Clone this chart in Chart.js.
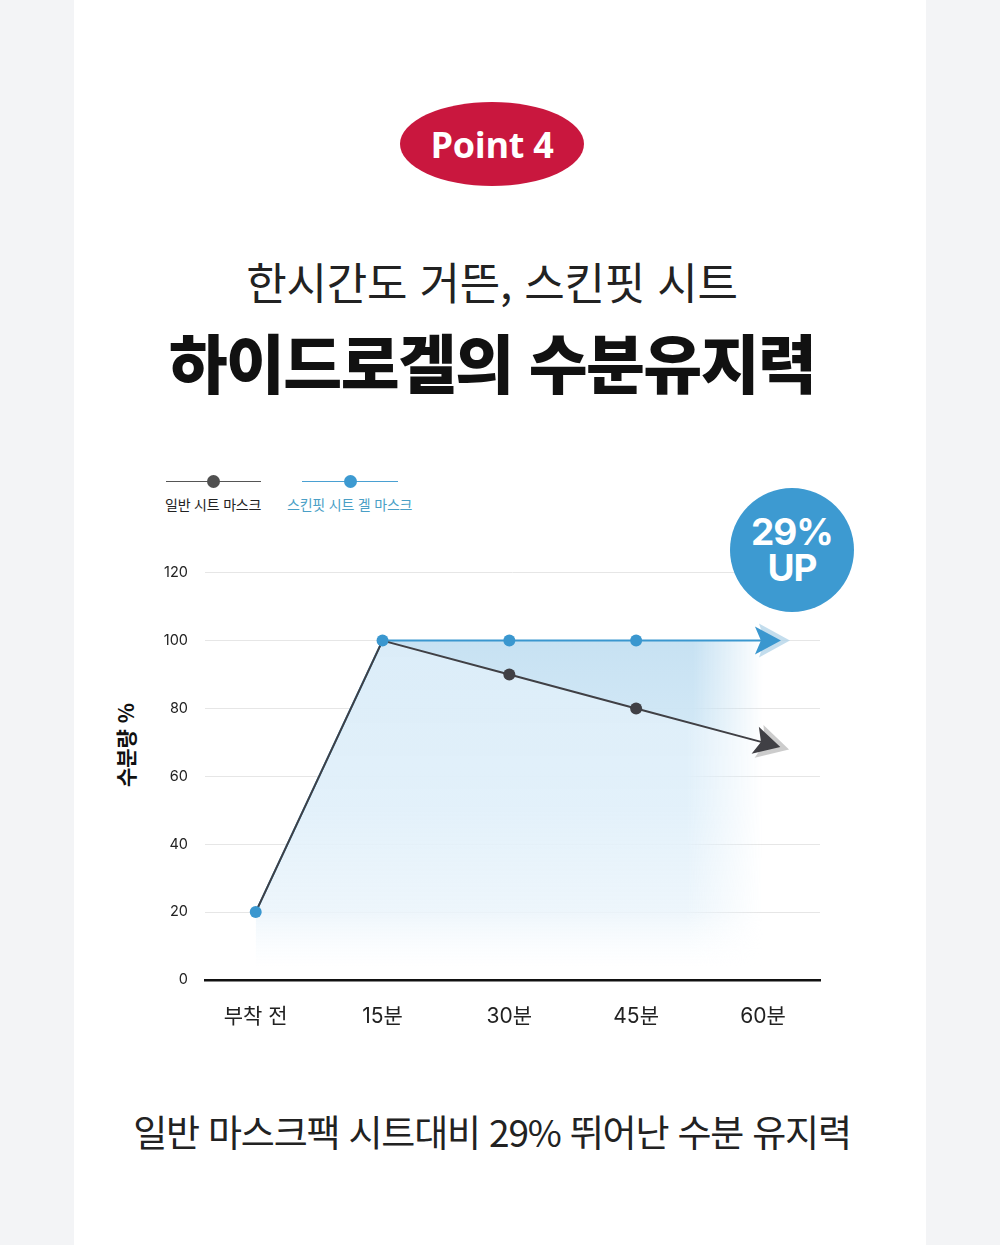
<!DOCTYPE html>
<html lang="ko">
<head>
<meta charset="utf-8">
<script src="https://cdn.jsdelivr.net/npm/chart.js@4.4.1/dist/chart.umd.min.js"></script>
<style>
  html, body { margin:0; padding:0; }
  body { width:1000px; height:1245px; background:#f3f4f6; position:relative; overflow:hidden;
         font-family:"Noto Sans CJK KR","Noto Sans",sans-serif; color:#1a1a1a; }
  #page { position:absolute; left:74px; top:0; width:852px; height:1245px; background:#fff; }
  .abs { position:absolute; }
  #badge { left:400px; top:102px; width:184px; height:84px; border-radius:50%; background:#c9173e;
           color:#fff; font-family:"Open Sans",sans-serif; font-weight:700; font-size:36px;
           display:flex; align-items:center; justify-content:center; letter-spacing:-0.3px; }
  .center { left:0; width:984px; text-align:center; white-space:nowrap; }
  #h1 { top:249px; font-size:44px; font-weight:400; letter-spacing:-0.2px; color:#222; }
  #h2 { top:314px; font-size:64px; font-weight:900; letter-spacing:-1.6px; color:#111; }
  #foot { top:1104px; font-size:37px; font-weight:400; letter-spacing:-1.2px; color:#222; }
  #circle { left:730px; top:488px; width:124px; height:124px; border-radius:50%; background:#3d9ad1;
            color:#fff; font-family:"Inter","Noto Sans",sans-serif; font-weight:700; font-size:37px;
            line-height:36px; display:flex; flex-direction:column; align-items:center; justify-content:center; letter-spacing:-1px; }
  .lgline { height:1.3px; }
  .lgdot { width:13px; height:13px; border-radius:50%; }
  .lgtext { font-size:14px; top:494px; white-space:nowrap; letter-spacing:-0.2px; }
  #ytitle { left:125px; top:745px; transform:translate(-50%,-50%) rotate(-90deg); font-size:21px; font-weight:700;
            white-space:nowrap; color:#111; }
  #wrap { left:140px; top:547px; width:720px; height:493px; }
</style>
</head>
<body>
<div id="page"></div>
<div id="badge" class="abs">Point 4</div>
<div id="h1" class="abs center">한시간도 거뜬, 스킨핏 시트</div>
<div id="h2" class="abs center">하이드로겔의 수분유지력</div>

<div class="abs lgline" style="left:166px;top:481px;width:95px;background:#555;"></div>
<div class="abs lgdot" style="left:207px;top:475px;background:#505050;"></div>
<div class="abs lgtext" style="left:165px;color:#222;">일반 시트 마스크</div>
<div class="abs lgline" style="left:302px;top:481px;width:96px;background:#4aa0d2;"></div>
<div class="abs lgdot" style="left:344px;top:475px;background:#3d9ad1;"></div>
<div class="abs lgtext" style="left:287px;color:#4a9fc6;">스킨핏 시트 겔 마스크</div>

<div id="ytitle" class="abs">수분량 %</div>

<div id="wrap" class="abs"><canvas id="c" width="720" height="493"></canvas></div>

<div id="circle" class="abs"><div>29%</div><div>UP</div></div>

<div id="foot" class="abs center">일반 마스크팩 시트대비 29% 뛰어난 수분 유지력</div>

<script>
// ---- data ----
const categories = ['부착 전', '15분', '30분', '45분', '60분'];
const gelValues = [20, 100, 100, 100, 100];      // 스킨핏 시트 겔 마스크
const normalValues = [20, 100, 90, 80, 70];      // 일반 시트 마스크
const yTicks = [0, 20, 40, 60, 80, 100, 120];

const BLUE = '#3a97cf';
const DARK = '#404045';

const patterns = { between: null, below: null };

function makePattern(chart, vStops, vFrom, vTo, hFrom, hTo) {
  const x = chart.scales.x, y = chart.scales.y;
  const y0 = y.getPixelForValue(vFrom), y1 = y.getPixelForValue(vTo);
  const x0 = x.getPixelForValue(hFrom), x1 = x.getPixelForValue(hTo);
  if (![y0, y1, x0, x1].every(Number.isFinite)) return null;
  const c = document.createElement('canvas');
  c.width = chart.width; c.height = chart.height;
  const g = c.getContext('2d');
  const vg = g.createLinearGradient(0, y0, 0, y1);
  vStops.forEach(([o, col]) => vg.addColorStop(o, col));
  g.fillStyle = vg; g.fillRect(0, 0, c.width, c.height);
  g.globalCompositeOperation = 'destination-in';
  const hg = g.createLinearGradient(x0, 0, x1, 0);
  hg.addColorStop(0, 'rgba(0,0,0,1)');
  hg.addColorStop(1, 'rgba(0,0,0,0)');
  g.fillStyle = hg; g.fillRect(0, 0, c.width, c.height);
  return chart.ctx.createPattern(c, 'no-repeat');
}

const fillPlugin = {
  id: 'fillPattern',
  afterLayout(chart) {
    patterns.between = makePattern(chart, [
      [0, 'rgba(196,224,242,0.95)'],
      [1, 'rgba(210,232,246,0.95)']
    ], 100, 68, 3.45, 4.0);
    patterns.below = makePattern(chart, [
      [0, 'rgba(218,236,248,0.97)'],
      [0.5, 'rgba(225,240,250,0.95)'],
      [0.82, 'rgba(234,244,251,0.85)'],
      [1, 'rgba(245,250,254,0)']
    ], 100, 3, 3.4, 4.0);
  }
};

const arrowPlugin = {
  id: 'arrows',
  afterDatasetsDraw(chart) {
    const ctx = chart.ctx;
    chart.data.datasets.forEach((ds, i) => {
      const meta = chart.getDatasetMeta(i);
      const n = meta.data.length;
      const p0 = meta.data[n - 2], p1 = meta.data[n - 1];
      const dx = p1.x - p0.x, dy = p1.y - p0.y;
      const L = Math.hypot(dx, dy);
      const ux = dx / L, uy = dy / L, px = -uy, py = ux;
      const draw = (ext, len, half, notch, color) => {
        const tx = p1.x + ux * ext, ty = p1.y + uy * ext;
        const bx = tx - ux * len, by = ty - uy * len;
        const nx = tx - ux * (len - notch), ny = ty - uy * (len - notch);
        ctx.beginPath();
        ctx.moveTo(tx, ty);
        ctx.lineTo(bx + px * half, by + py * half);
        ctx.lineTo(nx, ny);
        ctx.lineTo(bx - px * half, by - py * half);
        ctx.closePath();
        ctx.fillStyle = color; ctx.fill();
      };
      ctx.save();
      draw(27, 31, 17, 6, ds.arrowShadow);
      draw(18, 26, 14, 6, ds.borderColor);
      ctx.restore();
    });
  }
};

new Chart(document.getElementById('c'), {
  type: 'line',
  data: {
    datasets: [
      {
        label: '일반 시트 마스크',
        data: normalValues.map((v, i) => ({ x: i, y: v })),
        borderColor: DARK,
        borderWidth: 2,
        pointRadius: [6, 6, 6, 6, 0],
        pointBackgroundColor: [BLUE, BLUE, DARK, DARK, DARK],
        pointBorderWidth: 0,
        fill: 'origin',
        backgroundColor: () => patterns.below || 'rgba(0,0,0,0)',
        arrowShadow: 'rgba(195,195,195,0.85)',
        tension: 0
      },
      {
        label: '스킨핏 시트 겔 마스크',
        data: gelValues.map((v, i) => ({ x: i, y: v })),
        borderColor: BLUE,
        borderWidth: 2,
        pointRadius: [0, 0, 6, 6, 0],
        pointBackgroundColor: BLUE,
        pointBorderWidth: 0,
        fill: '-1',
        backgroundColor: () => patterns.between || 'rgba(0,0,0,0)',
        arrowShadow: 'rgba(180,212,232,0.8)',
        tension: 0
      }
    ]
  },
  options: {
    responsive: false,
    animation: false,
    layout: { padding: { left: 0, top: 9, right: 40, bottom: 0 } },
    plugins: {
      legend: { display: false },
      tooltip: { enabled: false },
      filler: { drawTime: 'beforeDatasetsDraw' }
    },
    scales: {
      x: {
        type: 'linear',
        min: -0.4, max: 4.45,
        afterFit: s => { s.height = 60; },
        grid: { display: false, drawTicks: false },
        border: { display: true, color: '#111', width: 2.5 },
        ticks: {
          stepSize: 1, includeBounds: false, padding: 24,
          color: '#222', font: { family: 'Inter, "Noto Sans CJK KR", sans-serif', size: 21 },
          callback: v => Number.isInteger(v) ? categories[v] : ''
        }
      },
      y: {
        min: 0, max: 120,
        afterFit: s => { s.width = 65; },
        afterBuildTicks: s => { s.ticks = yTicks.map(v => ({ value: v })); },
        grid: { color: '#e6e6e6', lineWidth: 1, drawTicks: false },
        border: { display: false },
        ticks: {
          padding: 17, color: '#222',
          font: { family: 'Inter, "Noto Sans", sans-serif', size: 14.5 }
        }
      }
    }
  },
  plugins: [fillPlugin, arrowPlugin]
});
</script>
</body>
</html>
